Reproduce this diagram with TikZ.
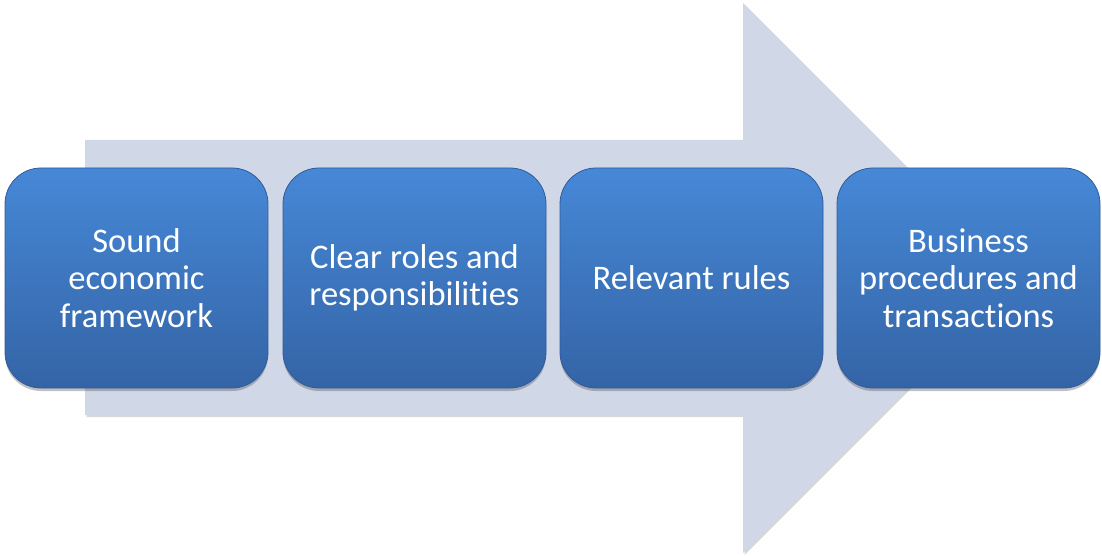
\documentclass[tikz,border=0pt]{standalone}
\usepackage{fontspec}
\setmainfont{Carlito}[Ligatures=NoCommon]
\usetikzlibrary{shadows}
\definecolor{arrowfill}{RGB}{208,215,230}
\definecolor{boxtop}{RGB}{70,136,215}
\definecolor{boxbot}{RGB}{52,100,166}
\definecolor{boxedge}{RGB}{48,92,156}
\begin{document}
\begin{tikzpicture}[x=1pt,y=-1pt,
  bigarrow/.style={fill=arrowfill,
    general shadow={fill=black!45, opacity=0.35, shadow xshift=1.5pt, shadow yshift=-2pt}},
  stepbox/.style={minimum width=263pt, minimum height=220pt, rounded corners=36pt,
    top color=boxtop, bottom color=boxbot, draw=boxedge, line width=0.8pt,
    text=white, align=center, font=\fontsize{34.5}{37.5}\selectfont,
    general shadow={fill=black!70, opacity=0.35, shadow xshift=0pt, shadow yshift=-3pt}}]
\useasboundingbox (0,0) rectangle (1102,556);
% background arrow
\path[bigarrow] (85,140) -- (743,140) -- (743,3) -- (1018,278) -- (743,553) -- (743,415) -- (85,415) -- cycle;
% the four steps
\node[stepbox] (b1) at (136.5,278) {Sound\\economic\\framework};
\node[stepbox] (b2) at (414.5,278) {Clear roles and\\responsibilities};
\node[stepbox] (b3) at (691.5,278) {Relevant rules};
\node[stepbox] (b4) at (968.5,278) {Business\\procedures and\\transactions};
\end{tikzpicture}
\end{document}
